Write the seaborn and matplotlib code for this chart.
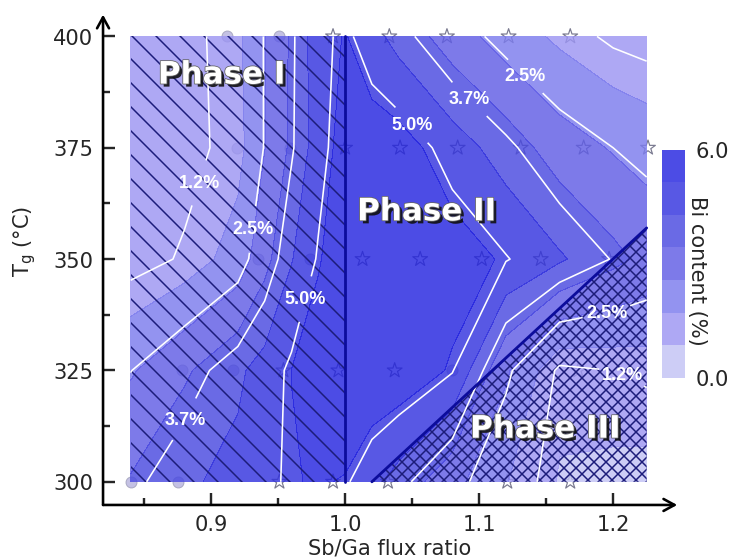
import numpy as np
import matplotlib
matplotlib.use('Agg')
import matplotlib.pyplot as plt
import matplotlib.patheffects as pe
import seaborn as sns
from matplotlib.colors import ListedColormap
from matplotlib.ticker import MultipleLocator, FormatStrFormatter

# Bi content (%), one row per growth temperature
flux = [0.84, 0.88, 0.92, 0.94, 0.96, 0.98, 1.00, 1.02, 1.04, 1.08, 1.12, 1.16, 1.20, 1.225]
temp = [300, 325, 350, 375, 400]
bi_300 = [3.5, 4.17, 4.5, 4.85, 5.1, 5.2, 5.1, 4.54, 3.96, 2.85, 1.76, 0.8, 0.7, 0.65]
bi_325 = [2.48, 3.3, 4.15, 4.6, 5.15, 5.5, 5.7, 5.75, 5.7, 5.05, 2.7, 1.05, 1.2, 1.3]
bi_350 = [0.9, 1.28, 2.06, 3.16, 4.24, 5.08, 5.6, 5.8, 5.8, 5.5, 5.05, 4.4, 3.65, 3.2]
bi_375 = [0.9, 0.97, 1.45, 2.55, 3.6, 4.7, 5.5, 5.6, 5.5, 4.7, 3.9, 3.0, 2.5, 2.25]
bi_400 = [0.9, 0.95, 1.55, 2.55, 3.55, 4.75, 5.2, 4.55, 4.0, 3.0, 2.17, 1.55, 1.05, 0.9]
line_levels = [1.2, 2.5, 3.7, 5.0]

# sample points (circles / stars)
circ_x = [0.912, 0.951, 0.919, 0.959, 0.935, 0.974, 0.878, 0.916, 1.08, 0.84, 0.875]
circ_y = [400, 400, 375, 375, 350, 350, 325, 325, 325, 300, 300]
star_x = [0.991, 1.033, 1.076, 1.122, 1.168,
          1.0, 1.041, 1.084, 1.131, 1.178, 1.226,
          1.013, 1.056, 1.102, 1.146, 1.197,
          0.954, 0.995, 1.037, 1.174,
          0.951, 0.991, 1.032, 1.121, 1.168]
star_y = [400] * 5 + [375] * 6 + [350] * 5 + [325] * 4 + [300] * 5

# phase boundaries
phase1_x = [0.84, 1.0]
phase3_x = [1.02, 1.225]
phase3_top = [300, 357]

sns.set_style('ticks')
plt.rcParams['font.family'] = ['DejaVu Sans']
plt.rcParams['mathtext.fontset'] = 'dejavusans'
plt.rcParams['hatch.linewidth'] = 0.75

fig = plt.figure(figsize=(729.2 / 144, 559.4 / 144), dpi=144)
ax = fig.add_axes([0.1413, 0.0966, 0.7874, 0.8766])

# Точки измерений под полупрозрачной картой
sns.scatterplot(x=circ_x, y=circ_y, marker='o', s=30, color='#b0acdc', edgecolor='#9a9ab4',
                linewidth=0.5, alpha=0.75, zorder=1, ax=ax, legend=False)
sns.scatterplot(x=star_x, y=star_y, marker='*', s=60, color='#7a7a90', edgecolor='#7a7a90',
                linewidth=0.6, zorder=1, ax=ax, legend=False)
ax.collections[-1].set_facecolor('none')

X, Y = np.meshgrid(flux, temp)
Z = np.array([bi_300, bi_325, bi_350, bi_375, bi_400])
cmap = ListedColormap(['#c2c3f4', '#9c95f2', '#7c7ced', '#605de5', '#4949e0', '#3333de', '#2424e0'])
cf = ax.contourf(X, Y, Z, levels=np.linspace(0, 6, 8), cmap=cmap, alpha=0.82, zorder=2)

# Штриховка фаз
hatch_c = '#1c1c7a'
ax.fill_between(phase1_x, temp[0], temp[-1], facecolor='none', edgecolor=hatch_c,
                hatch='\\\\', lw=0, zorder=3)
ax.fill_between(phase3_x, temp[0], phase3_top, facecolor='none', edgecolor=hatch_c,
                hatch='xxxx', lw=0, zorder=3)
ax.plot([phase1_x[1], phase1_x[1]], [temp[0], temp[-1]], color='#0c0c9c', lw=1.4, zorder=5)
ax.plot(phase3_x, phase3_top, color='#0c0c9c', lw=1.4, zorder=5)

# Изолинии поверх штриховки
cs = ax.contour(X, Y, Z, levels=line_levels, colors='white', linewidths=0.8, zorder=4)
label_pos = [(0.890, 367.2), (0.933, 356.6), (0.972, 340.9), (0.881, 313.9),
             (1.05, 380.2), (1.095, 386.5), (1.14, 392.6),
             (1.196, 336.9), (1.205, 322.9)]
cl = ax.clabel(cs, fmt=lambda v: f'{v:.1f}%', fontsize=9, inline=True,
               manual=label_pos, inline_spacing=3, zorder=6)
for t in cl:
    t.set_rotation(0)
    t.set_fontweight('bold')
    t.set_family('Liberation Sans')

effects = [pe.SimplePatchShadow(offset=(1.5, -1.5), shadow_rgbFace='#111111', alpha=0.9),
           pe.Stroke(linewidth=0.8, foreground='#666666'), pe.Normal()]
for px, py, name in [(0.908, 389.4, 'Phase I'), (1.061, 358.7, 'Phase II'), (1.1496, 309.9, 'Phase III')]:
    ax.text(px, py, name, fontsize=15.5, family='DejaVu Sans', weight='bold', color='white',
            ha='center', va='baseline', path_effects=effects, zorder=7)

# Оси со стрелками
ax.set_xlim(0.8194, 1.2478)
ax.set_ylim(294.8, 404.9)
ax.xaxis.set_major_locator(MultipleLocator(0.1))
ax.xaxis.set_minor_locator(MultipleLocator(0.05))
ax.xaxis.set_major_formatter(FormatStrFormatter('%.1f'))
ax.yaxis.set_major_locator(MultipleLocator(25))
ax.yaxis.set_minor_locator(MultipleLocator(12.5))
ax.tick_params(which='major', direction='in', length=6, width=1.2, labelsize=10.5, pad=5)
ax.tick_params(which='minor', direction='in', length=3.5, width=1.2)
for s in ax.spines.values():
    s.set_visible(False)
arrow = dict(arrowstyle='->,head_length=0.55,head_width=0.3', lw=1.3, color='k', shrinkA=0, shrinkB=0)
ax.annotate('', xy=(0, 1), xytext=(0, 0), xycoords='axes fraction', arrowprops=arrow)
ax.annotate('', xy=(1, 0), xytext=(0, 0), xycoords='axes fraction', arrowprops=arrow)
ax.set_xlabel('Sb/Ga flux ratio', fontsize=10.5, va='baseline')
ax.xaxis.set_label_coords(0.5, -0.1)
ax.set_ylabel('T$_\\mathregular{g}$ (°C)', fontsize=10.5)
ax.yaxis.set_label_coords(-0.113, 0.539)

cax = fig.add_axes([662 / 729, 1 - 378 / 559, 23 / 729, 228 / 559])
cb = fig.colorbar(cf, cax=cax, ticks=[0, 6], format='%.1f')
cb.outline.set_visible(False)
cax.tick_params(length=0, labelsize=10.5, pad=5)
cax.text(1.5, 0.47, 'Bi content (%)', rotation=270, ha='center', va='center',
         transform=cax.transAxes, fontsize=10.5)

fig.savefig('out.png', dpi=144)
